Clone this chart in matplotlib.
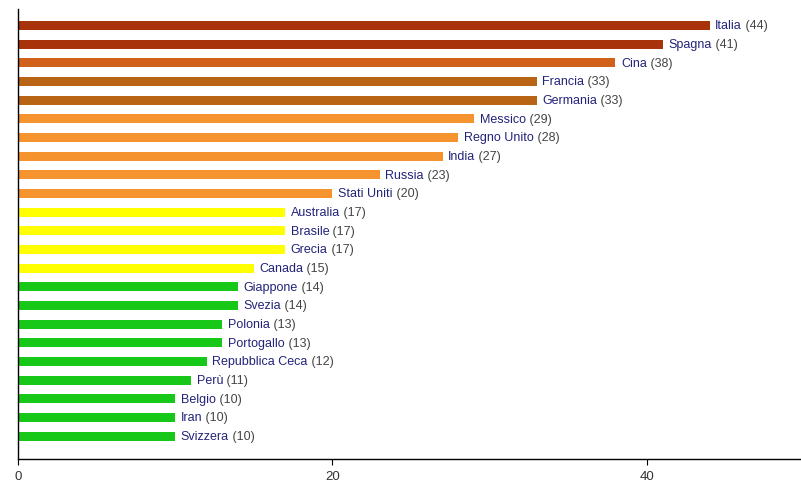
import matplotlib
matplotlib.use("Agg")
import matplotlib.pyplot as plt
import numpy as np

countries = [
    "Italia", "Spagna", "Cina", "Francia", "Germania", "Messico", "Regno Unito",
    "India", "Russia", "Stati Uniti", "Australia", "Brasile", "Grecia", "Canada",
    "Giappone", "Svezia", "Polonia", "Portogallo", "Repubblica Ceca", "Perù",
    "Belgio", "Iran", "Svizzera",
]
values = [44, 41, 38, 33, 33, 29, 28, 27, 23, 20, 17, 17, 17, 15,
          14, 14, 13, 13, 12, 11, 10, 10, 10]
colors = (["#A8330A", "#A8330A", "#D0601A", "#B86414", "#B86414"]
          + ["#F5932F"] * 5
          + ["#FFFF00"] * 4
          + ["#18C818"] * 9)

plt.rcParams["font.family"] = ["Liberation Sans", "DejaVu Sans"]

fig = plt.figure(figsize=(8.01, 4.89), dpi=100)
ax = fig.add_axes([0.0225, 0.0593, 0.9775, 0.9207])

n = len(countries)
ypos = np.arange(n)[::-1]
ax.barh(ypos, values, height=0.48, color=colors, edgecolor="none")

for y, name, v in zip(ypos, countries, values):
    t = ax.annotate(name, xy=(v, y), xytext=(4, 0), textcoords="offset points",
                    ha="left", va="center", fontsize=9, color="#23237A")
    ax.annotate(f" ({v})", xy=(1, 0.5), xycoords=t, ha="left", va="center",
                fontsize=9, color="#444444")

ax.set_xlim(0, 49.8)
ax.set_ylim(-1.23, n - 1 + 0.89)
ax.set_xticks([0, 20, 40])
ax.set_yticks([])
ax.tick_params(axis="x", direction="out", length=4, width=0.8,
               labelsize=9.5, labelcolor="#333333", pad=4)
ax.spines["top"].set_visible(False)
ax.spines["right"].set_visible(False)
ax.spines["left"].set_linewidth(1)
ax.spines["bottom"].set_linewidth(1)

fig.savefig("out.png", dpi=100)
